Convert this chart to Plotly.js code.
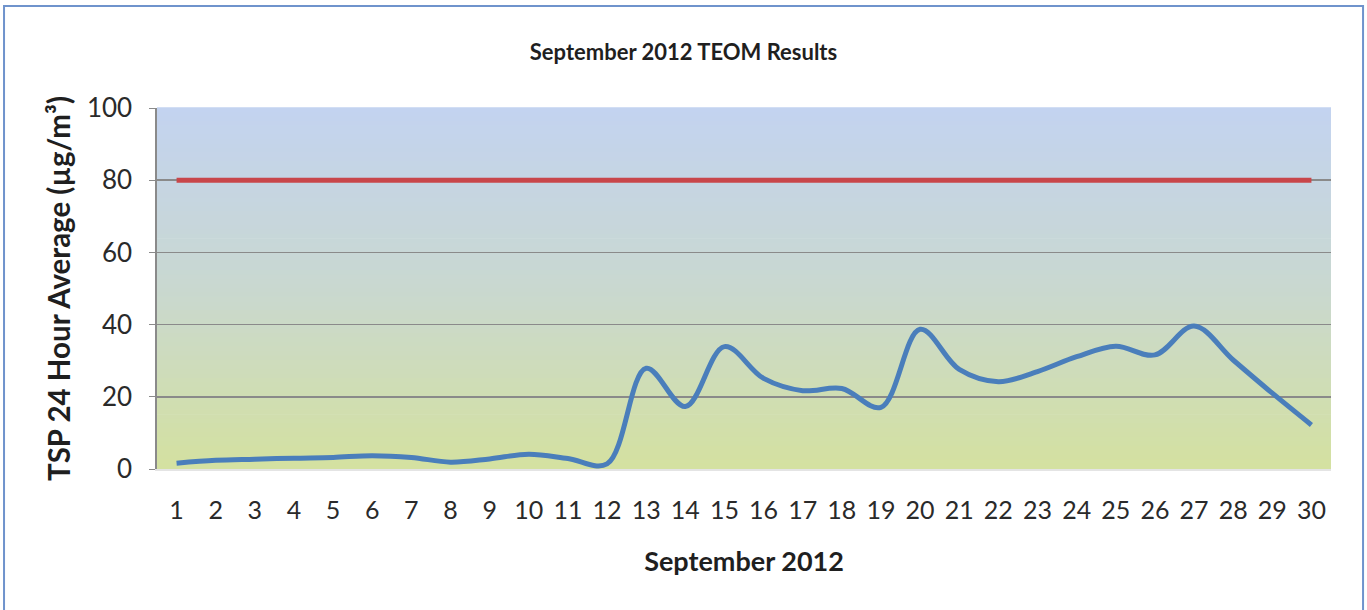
<!DOCTYPE html>
<html>
<head>
<meta charset="utf-8">
<script src="https://cdn.plot.ly/plotly-3.0.1.min.js"></script>
<style>html,body{margin:0;padding:0;background:#fff;}#chart{width:1367px;height:610px;}</style>
</head>
<body>
<div id="chart"></div>
<script>
// ---- data ----
const days = ["1","2","3","4","5","6","7","8","9","10","11","12","13","14","15","16","17","18","19","20","21","22","23","24","25","26","27","28","29","30"];
const tsp = [1.6, 2.4, 2.7, 3.0, 3.2, 3.7, 3.2, 1.9, 2.8, 4.1, 2.9, 1.4, 27.9, 17.3, 33.9, 25.1, 21.7, 22.3, 17.1, 38.7, 27.6, 24.2, 27.0, 31.1, 34.0, 31.6, 39.6, 30.2, 21.0, 12.2];
const limitValue = 80;
const limit = days.map(() => limitValue);
const yTicks = [0, 20, 40, 60, 80, 100];

// ---- background gradient (styling) ----
const topC = [195, 211, 240], midC = [201, 216, 208], botC = [212, 225, 160];
function mix(a, b, t) { return a.map((v, i) => Math.round(v + (b[i] - v) * t)); }
const shapes = [];
const N = 80;
for (let i = 0; i < N; i++) {
  const t = (i + 0.5) / N; // 0 top -> 1 bottom
  const c = t < 0.5 ? mix(topC, midC, t / 0.5) : mix(midC, botC, (t - 0.5) / 0.5);
  shapes.push({type: 'rect', xref: 'paper', yref: 'paper', x0: 0, x1: 1,
    y0: 1 - (i + 1) / N, y1: 1 - i / N + 0.002, layer: 'below',
    fillcolor: `rgb(${c[0]},${c[1]},${c[2]})`, line: {width: 0}});
}
// outer chart frame
shapes.push({type: 'rect', xref: 'paper', yref: 'paper', x0: -0.1303, x1: 1.0273, y0: -0.45, y1: 1.2825,
  layer: 'above', fillcolor: 'rgba(0,0,0,0)', line: {color: '#6f93cc', width: 2}});

const font = 'Lato, "Open Sans", sans-serif';

const traces = [
  {x: days, y: limit, type: 'scatter', mode: 'lines', line: {color: '#c8464a', width: 5}, hoverinfo: 'skip'},
  {x: days, y: tsp, type: 'scatter', mode: 'lines', line: {color: '#4a7ebb', width: 5, shape: 'spline', smoothing: 1}}
];

const layout = {
  width: 1367, height: 610,
  margin: {l: 157, r: 36, t: 108, b: 141},
  paper_bgcolor: '#ffffff', plot_bgcolor: 'rgba(0,0,0,0)',
  showlegend: false,
  font: {family: font, color: '#262626'},
  title: {text: '<b>September 2012 TEOM Results</b>', x: 0.5, xref: 'container', y: 0.915, yref: 'container', yanchor: 'middle',
    font: {family: font, size: 22, color: '#1f1f1f'}},
  xaxis: {type: 'category', tickvals: days, ticktext: days, showgrid: false, zeroline: false,
    showline: true, linecolor: '#e4e4e4', linewidth: 2, ticks: '',
    tickfont: {family: font, size: 25, color: '#2a2a2a'}, ticklabelstandoff: 18,
    title: {text: '<b>September 2012</b>', font: {family: font, size: 27, color: '#1f1f1f'}, standoff: 29},
    range: [-0.5, 29.5], fixedrange: true, automargin: false},
  yaxis: {range: [0, 100], tickvals: yTicks, ticktext: yTicks.map(String), showgrid: true, gridcolor: '#8a8a8a', gridwidth: 1.6,
    zeroline: false, showline: true, linecolor: '#8a8a8a', linewidth: 1.6, ticks: 'outside', ticklen: 6, tickcolor: '#8a8a8a',
    tickfont: {family: font, size: 26, color: '#2a2a2a'}, ticklabelstandoff: 12,
    title: {text: '<b>TSP 24 Hour Average (µg/m³)</b>', font: {family: font, size: 29.5, color: '#1f1f1f'}, standoff: 7},
    fixedrange: true, automargin: false},
  shapes: shapes
};

Plotly.newPlot('chart', traces, layout, {displayModeBar: false, staticPlot: true});
</script>
</body>
</html>
